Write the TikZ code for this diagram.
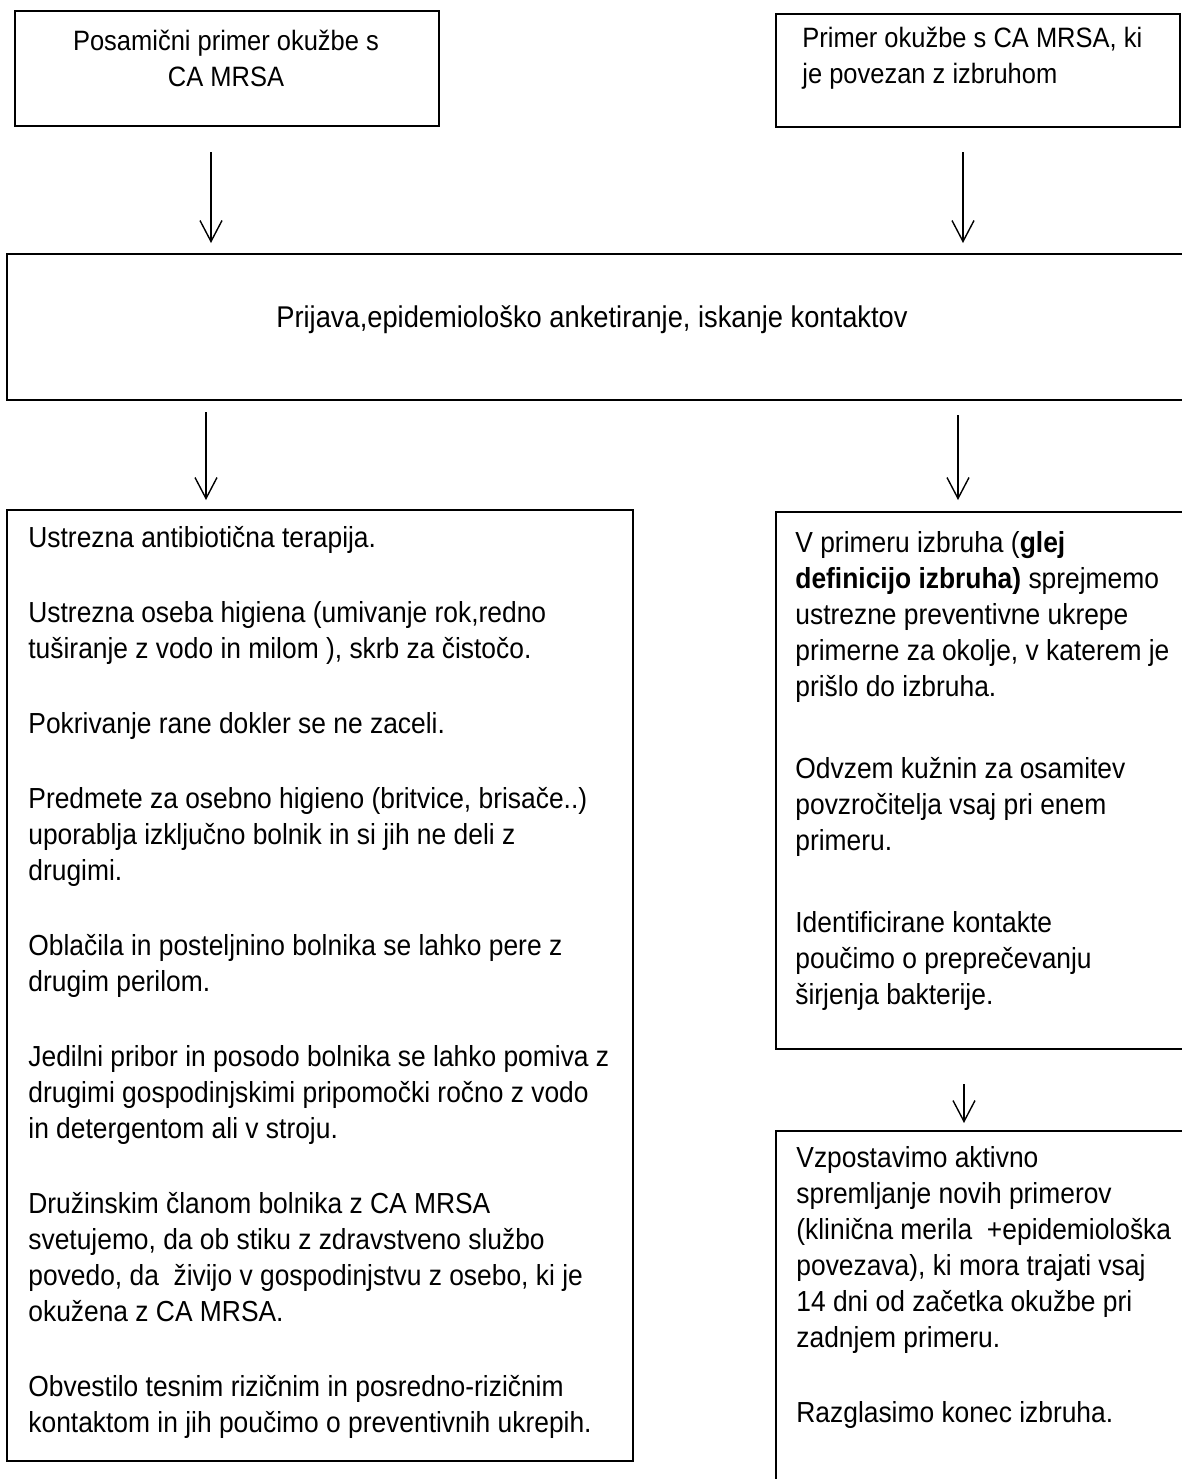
\documentclass[tikz,border=0pt]{standalone}
\usepackage{fontspec}
\setmainfont{Liberation Sans}[FakeStretch=0.91]
\usetikzlibrary{arrows.meta, positioning}

\begin{document}
\begin{tikzpicture}[
    x=0.5pt, y=-0.5pt,
    box/.style={rectangle, draw, line width=1pt, anchor=north west, inner sep=0pt},
    txt/.style={anchor=north west, inner sep=0pt, align=left, font=\fontsize{14.5}{18}\selectfont},
    line/.style={draw, -{Straight Barb[length=10.5pt, width=11pt]}, line width=0.7pt}
]
\useasboundingbox (0,0) rectangle (1182,1479);
\clip (0,0) rectangle (1182,1479);

% boxes
\node [box, minimum width=212pt, minimum height=57.5pt] (single) at (14,10) {};
\node [box, minimum width=202pt, minimum height=56.5pt] (outbreak) at (775,13) {};
\node [box, minimum width=595pt, minimum height=73pt] (report) at (6,253) {};
\node [box, minimum width=313pt, minimum height=475.5pt] (measures) at (6,509) {};
\node [box, minimum width=210pt, minimum height=268.5pt] (prevent) at (775,511) {};
\node [box, minimum width=210pt, minimum height=220pt] (ending) at (775,1130) {};

% texts
\node [txt, anchor=north, align=center, font=\fontsize{14}{18}\selectfont] (singletxt) at (226,25) {\strut Posamični primer okužbe s\\CA MRSA};
\node [txt, font=\fontsize{14}{18}\selectfont] (outbreaktxt) at (802,22) {\strut Primer okužbe s CA MRSA, ki\\je povezan z izbruhom};
\node [txt, anchor=north, font=\fontsize{15}{18}\selectfont] (reporttxt) at (592,302) {\strut Prijava,epidemiološko anketiranje, iskanje kontaktov};

\node [txt] (measurestxt) at (28,522) {\strut Ustrezna antibiotična terapija.\\[19.5pt]
Ustrezna oseba higiena (umivanje rok,redno\\
tuširanje z vodo in milom ), skrb za čistočo.\\[19.5pt]
Pokrivanje rane dokler se ne zaceli.\\[19.5pt]
Predmete za osebno higieno (britvice, brisače..)\\
uporablja izključno bolnik in si jih ne deli z\\
drugimi.\\[19.5pt]
Oblačila in posteljnino bolnika se lahko pere z\\
drugim perilom.\\[19.5pt]
Jedilni pribor in posodo bolnika se lahko pomiva z\\
drugimi gospodinjskimi pripomočki ročno z vodo\\
in detergentom ali v stroju.\\[19.5pt]
Družinskim članom bolnika z CA MRSA\\
svetujemo, da ob stiku z zdravstveno službo\\
povedo, da\ \ živijo v gospodinjstvu z osebo, ki je\\
okužena z CA MRSA.\\[19.5pt]
Obvestilo tesnim rizičnim in posredno-rizičnim\\
kontaktom in jih poučimo o preventivnih ukrepih.};

\node [txt] (preventtxt) at (795,527) {\strut V primeru izbruha (\textbf{glej}\\
\textbf{definicijo izbruha)} sprejmemo\\
ustrezne preventivne ukrepe\\
primerne za okolje, v katerem je\\
prišlo do izbruha.\\[23pt]
Odvzem kužnin za osamitev\\
povzročitelja vsaj pri enem\\
primeru.\\[23pt]
Identificirane kontakte\\
poučimo o preprečevanju\\
širjenja bakterije.};

\node [txt] (endingtxt) at (796,1142) {\strut Vzpostavimo aktivno\\
spremljanje novih primerov\\
(klinična merila\ \ +epidemiološka\\
povezava), ki mora trajati vsaj\\
14 dni od začetka okužbe pri\\
zadnjem primeru.\\[19.5pt]
Razglasimo konec izbruha.};

% arrows
\path [line] ([xshift=-8pt, yshift=-12.5pt]single.south) -- ([xshift=-8pt, yshift=5pt]single.south |- report.north);
\path [line] ([xshift=-7.5pt, yshift=-12pt]outbreak.south) -- ([xshift=-7.5pt, yshift=5pt]outbreak.south |- report.north);
\path [line] ([xshift=-57pt, yshift=-5.5pt]measures.north |- report.south) -- ([xshift=-57pt, yshift=4.5pt]measures.north);
\path [line] ([xshift=-14pt, yshift=-7pt]prevent.north |- report.south) -- ([xshift=-14pt, yshift=5.5pt]prevent.north);
\path [line] ([xshift=-11pt, yshift=-17pt]prevent.south) -- ([xshift=-11pt, yshift=3.5pt]ending.north);

\end{tikzpicture}
\end{document}
